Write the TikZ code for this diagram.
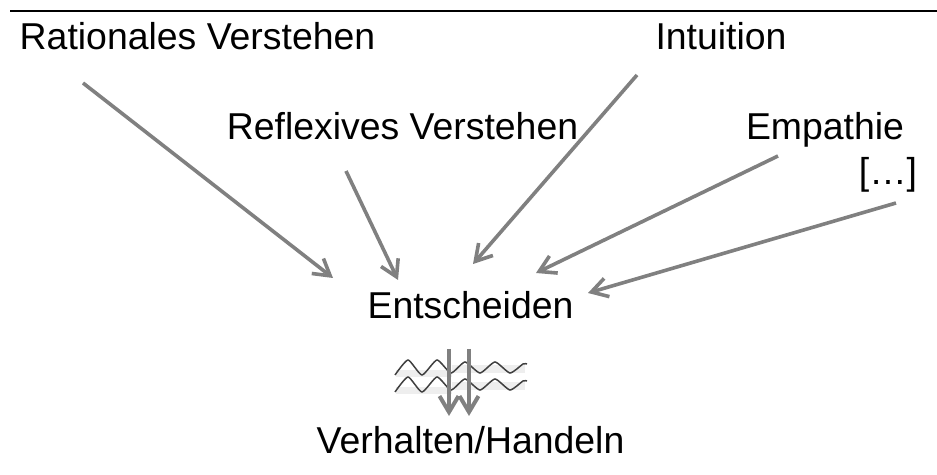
\documentclass[tikz,border=0pt]{standalone}
\usepackage{fontspec}
\setmainfont{Liberation Sans}
\usetikzlibrary{arrows.meta,calc}
\definecolor{arrowgray}{RGB}{128,128,128}
\definecolor{shadegray}{RGB}{238,238,238}
\tikzset{
	term/.style={inner sep=0pt, anchor=base, font=\fontsize{18.7}{22}\selectfont},
	flow/.style={draw=arrowgray, line width=1.8pt, -{Straight Barb[length=8pt,width=9.5pt]}},
	wave/.style={draw=black!75, line width=0.75pt},
}

\begin{document}
\begin{tikzpicture}[x=0.5pt, y=-0.5pt]
		\useasboundingbox (0,0) rectangle (937,475);
		\draw[line width=1.3pt] (10,11) -- (937,11);

		\node[term] (rat) at (197.5,50) {Rationales Verstehen};
		\node[term] (int) at (721,50) {Intuition};
		\node[term] (ref) at (402.5,140) {Reflexives Verstehen};
		\node[term] (emp) at (825,140) {Empathie};
		\node[term] (etc) at (888,185) {[…]};
		\node[term] (ent) at (470.5,319) {Entscheiden};
		\node[term] (ver) at (470.5,453) {Verhalten/Handeln};

		% disturbance between decision and action
		\foreach \dy in {0,17} {
			\begin{scope}[shift={(0,\dy)}]
				\fill[shadegray] (396,370) rectangle (452,377);
				\fill[shadegray] (452,365) rectangle (525,373);
				\draw[wave] plot[smooth, tension=0.35] coordinates {(395,375) (408,360) (422,375) (437,360) (451,373) (465,362) (480,373) (495,362) (510,373) (523,364) (527,364)};
			\end{scope}
		}

		\draw[flow] ($(rat.base)+(-114.5,33)$) -- ($(ent.base)+(-137.5,-41)$);
		\draw[flow] ($(ref.base)+(-56.5,31)$) -- ($(ent.base)+(-72.5,-39)$);
		\draw[flow] ($(int.base)+(-84,25)$) -- ($(ent.base)+(2.5,-55)$);
		\draw[flow] ($(emp.base)+(-47,16)$) -- ($(ent.base)+(65.5,-46)$);
		\draw[flow] ($(etc.base)+(8,18)$) -- ($(ent.base)+(117.5,-26)$);

		\draw[flow, line width=2pt] ($(ent.base)+(-21.5,30)$) -- ($(ver.base)+(-21.5,-37)$);
		\draw[flow, line width=2pt] ($(ent.base)+(-1.5,30)$) -- ($(ver.base)+(-1.5,-37)$);
	\end{tikzpicture}
\end{document}
